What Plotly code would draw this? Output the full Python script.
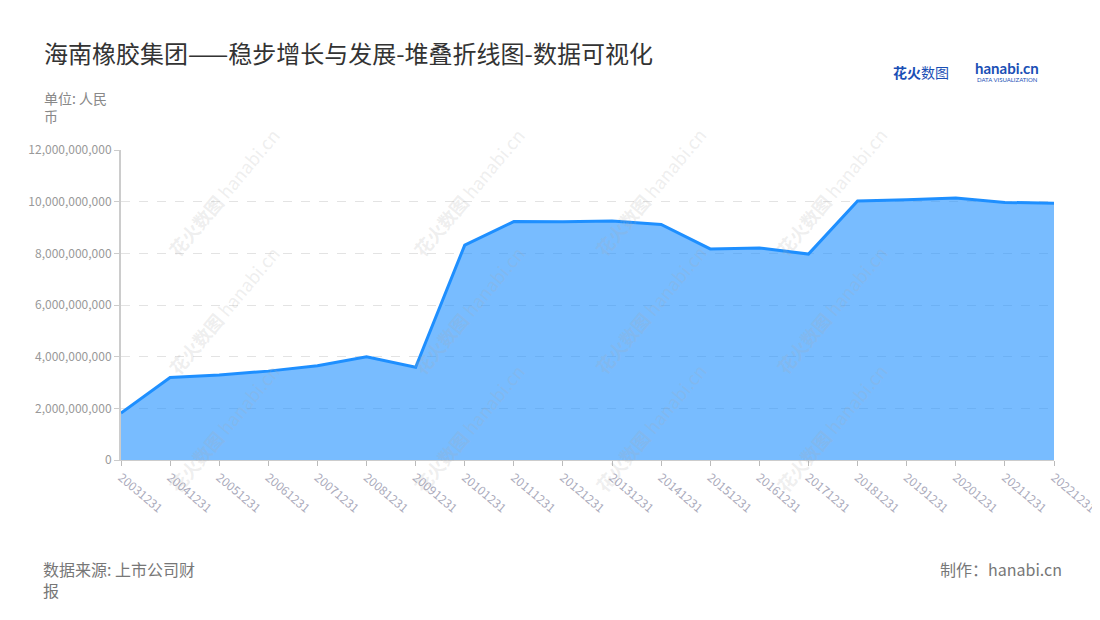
import plotly.graph_objects as go

# 海南橡胶 营业收入 (元)
years = ["20031231", "20041231", "20051231", "20061231", "20071231",
         "20081231", "20091231", "20101231", "20111231", "20121231",
         "20131231", "20141231", "20151231", "20161231", "20171231",
         "20181231", "20191231", "20201231", "20211231", "20221231"]
revenue = [1.82e9, 3.19e9, 3.29e9, 3.44e9, 3.65e9,
           4.00e9, 3.59e9, 8.32e9, 9.23e9, 9.22e9,
           9.25e9, 9.12e9, 8.17e9, 8.21e9, 7.97e9,
           10.03e9, 10.07e9, 10.14e9, 9.97e9, 9.94e9]
y_ticks = [0, 2e9, 4e9, 6e9, 8e9, 10e9, 12e9]

font = "Noto Sans CJK SC"
OFF = 8  # page body margin
L, R, T, B = 121, 1054, 150, 460  # plot area on the page


def px(x):
    # page pixel -> paper x
    return (x - L) / (R - L)


def py(y):
    return (B - y) / (B - T)


fig = go.Figure()
fig.add_trace(go.Scatter(
    x=years, y=revenue, mode="lines", fill="tozeroy",
    line=dict(color="#1E8FFF", width=3),
    fillcolor="rgba(30,143,255,0.6)",
    hoverinfo="x+y",
))

fig.update_layout(
    width=1100, height=620,
    paper_bgcolor="white", plot_bgcolor="white",
    margin=dict(l=L - OFF, r=1100 - (R - OFF), t=T - OFF, b=620 - (B - OFF),
                autoexpand=False),
    showlegend=False,
    font=dict(family=font, color="#999"),
    title=dict(text="海南橡胶集团——稳步增长与发展-堆叠折线图-数据可视化",
               x=(44 - OFF) / 1100, xanchor="left", y=1 - (55 - OFF) / 620,
               yanchor="middle",
               font=dict(size=24, color="#333", family=font)),
)

fig.update_xaxes(
    type="category", range=[0, len(years) - 1],
    showline=True, linecolor="#ccc", linewidth=1,
    ticks="outside", ticklen=5, tickcolor="#bbb",
    tickangle=40, tickfont=dict(size=12, color="#aab"),
    showgrid=False,
)
fig.update_yaxes(
    range=[0, 12e9], tickvals=y_ticks, tickformat=",",
    showline=True, linecolor="#ccc", linewidth=2,
    ticks="outside", ticklen=5, tickcolor="#ccc",
    tickfont=dict(size=12, color="#999"),
    showgrid=True, gridcolor="#e3e3e3", griddash="dash", zeroline=False,
)

# watermarks
for wx in [160, 405, 650, 895]:
    for wy in [120, 310, 500]:
        fig.add_annotation(
            x=px(wx), y=py(wy), xref="paper", yref="paper",
            text="<b>花火数图</b> hanabi.cn", showarrow=False, textangle=-50,
            font=dict(size=18, color="rgba(170,170,170,0.2)", family=font),
        )

# unit label and footer
fig.add_annotation(x=px(42), y=py(86), xref="paper", yref="paper",
                   xanchor="left", yanchor="top", align="left", showarrow=False,
                   text="单位: 人民<br>币", font=dict(size=14, color="#888"))
fig.add_annotation(x=px(41), y=py(555), xref="paper", yref="paper",
                   xanchor="left", yanchor="top", align="left", showarrow=False,
                   text="数据来源: 上市公司财<br>报", font=dict(size=16, color="#777"))
fig.add_annotation(x=px(1064), y=py(555), xref="paper", yref="paper",
                   xanchor="right", yanchor="top", align="right", showarrow=False,
                   text="制作：hanabi.cn", font=dict(size=16, color="#777"))

# logo
fig.add_annotation(x=px(891), y=py(72), xref="paper", yref="paper",
                   xanchor="left", yanchor="middle", showarrow=False,
                   text="<b>花火</b>数图", font=dict(size=14, color="#1a4fb5", family=font))
fig.add_annotation(x=px(973), y=py(68), xref="paper", yref="paper",
                   xanchor="left", yanchor="middle", showarrow=False,
                   text="<b>hanabi.cn</b>", font=dict(size=15, color="#1a4fb5", family="Lato"))
fig.add_annotation(x=px(975), y=py(79), xref="paper", yref="paper",
                   xanchor="left", yanchor="middle", showarrow=False,
                   text="DATA VISUALIZATION", font=dict(size=6, color="#1a4fb5", family="Lato"))

fig.write_html("out.html")
